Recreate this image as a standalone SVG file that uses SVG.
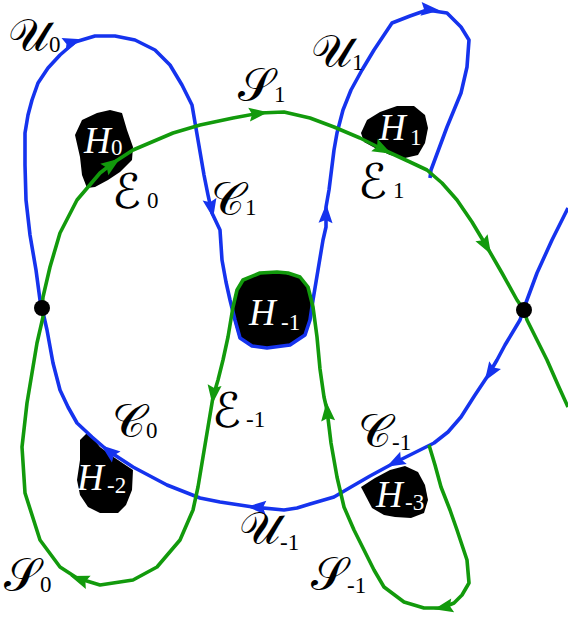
<svg xmlns="http://www.w3.org/2000/svg" xmlns:xlink="http://www.w3.org/1999/xlink" width="568" height="619" viewBox="0 0 568 619">
<style>
.blob{fill:#000}
.bl{fill:none;stroke:#1533ee;stroke-width:3.6;stroke-linejoin:round;stroke-linecap:butt}
.gr{fill:none;stroke:#129a0c;stroke-width:3.6;stroke-linejoin:round;stroke-linecap:butt}
.ab{fill:#1533ee}
.ag{fill:#129a0c}
.lab{font-family:"Liberation Serif","DejaVu Serif",serif;font-style:italic;font-size:37px;fill:#000}
.scr{font-family:"DejaVu Serif","DejaVu Sans","Liberation Serif",serif;font-style:normal;font-size:46px;fill:#000}
.scE{font-family:"DejaVu Serif","DejaVu Sans","Liberation Serif",serif;font-style:normal;font-size:48px;fill:#000}
.sub{font-family:"Liberation Serif",serif;font-style:normal;font-size:23px}
.w{fill:#fff}
</style>
<defs>
<path id="ah" d="M6,0 L-13,-7 L-10,0 L-13,7 Z"/>
</defs>
<g id="holes">
<g id="H0"><polygon class="blob" points="82,120 97,113 110,110 122,113 127,130 133,147 132,160 120,172 108,180 95,187 87,188 82,175 80,157 75,135"/><text class="lab w" x="84" y="153">H<tspan class="sub" x="111" y="155">0</tspan></text></g>
<g id="H1"><polygon class="blob" points="361,133 367,120 380,112 397,106 414,106 425,115 428,128 425,143 418,155 405,158 390,155 375,148 364,142"/><text class="lab w" x="379" y="140">H<tspan class="sub" x="410" y="145">1</tspan></text></g>
<g id="Hm1"><polygon class="blob" points="243,280 260,273 277,272 300,277 308,287 313,307 310,322 305,335 290,345 267,349 248,345 238,335 233,318 234,298"/><text class="lab w" x="249" y="325">H<tspan class="sub" x="281" y="330">-1</tspan></text></g>
<g id="Hm2"><polygon class="blob" points="80,440 88,432 100,447 115,458 133,470 132,490 126,505 118,513 100,513 88,507 80,495 77,480 80,460"/><text class="lab w" x="77" y="490">H<tspan class="sub" x="107" y="493">-2</tspan></text></g>
<g id="Hm3"><polygon class="blob" points="361,487 375,478 390,470 405,466 418,472 425,485 428,500 424,513 411,518 395,517 384,515 372,508"/><text class="lab w" x="376" y="507">H<tspan class="sub" x="405" y="510">-3</tspan></text></g>
</g>
<g id="connectors">
<path id="blue" class="bl" d="M568,208 L552,240 L537,273 L524,308 L520,320 L505,345 L497,360 L487,377 L475,395 L461,417 L448,432 L434,443 L410,455 L394,463 L370,476 L351,487 L334,497 L310,504 L297,508 L284,510 L253,507 L220,502 L200,498 L167,485 L133,467 L107,450 L92,437 L77,423 L68,407 L60,390 L53,363 L47,330 L42,308 L40,300 L36,270 L30,235 L26,200 L25,165 L25,133 L28,115 L32,100 L38,83 L48,68 L60,55 L75,42 L95,36 L115,36 L135,40 L155,50 L170,65 L182,85 L192,105 L198,140 L204,175 L208,195 L212,213 L220,230 L222,260 L226,282 L230,300 L235,320 L240,338 L252,346 L267,348 L290,345 L305,335 L310,320 L313,300 L318,270 L323,240 L326,227 L326,207 L329,190 L334,150 L337,133 L343,110 L351,90 L362,70 L374,50 L392,23 L410,16 L427,10 L447,13 L461,27 L469,40 L467,67 L461,93 L447,127 L431,170 L430,178"/>
<path id="green" class="gr" d="M429,445 L435,465 L441,487 L450,510 L457,530 L463,548 L467,560 L469,583 L462,595 L454,603 L442,608 L424,608 L404,602 L384,587 L374,570 L364,550 L354,530 L344,507 L337,477 L331,443 L327,410 L324,397 L320,369 L317,337 L313,307 L308,287 L300,277 L288,273 L277,272 L260,273 L243,280 L237,290 L233,307 L228,337 L223,360 L218,380 L213,397 L208,427 L198,487 L193,510 L180,540 L157,567 L133,580 L100,585 L77,578 L60,567 L40,540 L25,493 L22,447 L27,403 L37,343 L43,317 L42,308 L43,297 L50,267 L60,233 L77,200 L100,173 L113,163 L133,150 L173,133 L200,125 L233,118 L260,113 L284,112 L310,118 L334,127 L360,138 L384,150 L410,162 L427,170 L442,183 L457,200 L472,222 L487,247 L502,273 L517,300 L524,310 L527,320 L537,340 L547,360 L558,385 L568,407"/>
<use xlink:href="#ah" class="ab" transform="translate(76,41) rotate(-17)"/>
<use xlink:href="#ah" class="ab" transform="translate(212,212) rotate(79)"/>
<use xlink:href="#ah" class="ab" transform="translate(326,210) rotate(-88)"/>
<use xlink:href="#ah" class="ab" transform="translate(434,10) rotate(5)"/>
<use xlink:href="#ah" class="ab" transform="translate(488,376) rotate(123)"/>
<use xlink:href="#ah" class="ab" transform="translate(392,464) rotate(152)"/>
<use xlink:href="#ah" class="ab" transform="translate(253,507) rotate(-177)"/>
<use xlink:href="#ah" class="ab" transform="translate(106,449) rotate(-142)"/>
<use xlink:href="#ah" class="ag" transform="translate(115,162) rotate(-35)"/>
<use xlink:href="#ah" class="ag" transform="translate(262,113) rotate(-7)"/>
<use xlink:href="#ah" class="ag" transform="translate(386,151) rotate(27)"/>
<use xlink:href="#ah" class="ag" transform="translate(488,249) rotate(60)"/>
<use xlink:href="#ah" class="ag" transform="translate(213,398) rotate(97)"/>
<use xlink:href="#ah" class="ag" transform="translate(76,578) rotate(-160)"/>
<use xlink:href="#ah" class="ag" transform="translate(440,608) rotate(168)"/>
<use xlink:href="#ah" class="ag" transform="translate(327,408) rotate(-95)"/>
</g>
<g id="points">
<circle cx="42" cy="308" r="8" fill="#000"/>
<circle cx="524" cy="310" r="8" fill="#000"/>
</g>
<g id="labels">
<text class="scr" x="8" y="51">𝒰<tspan class="sub" y="52">0</tspan></text>
<text class="scr" x="238" y="101">𝒮<tspan class="sub" y="102">1</tspan></text>
<text class="scE" x="112" y="208">ℰ</text><text class="sub" x="147" y="208">0</text>
<text class="scr" x="211" y="215">𝒞<tspan class="sub" y="215">1</tspan></text>
<text class="scr" x="311" y="67">𝒰<tspan class="sub" y="70">1</tspan></text>
<text class="scE" x="358" y="198">ℰ</text><text class="sub" x="393" y="198">1</text>
<text class="scE" x="212" y="427">ℰ</text><text class="sub" x="246" y="427">-1</text>
<text class="scr" x="112" y="437">𝒞<tspan class="sub" y="438">0</tspan></text>
<text class="scr" x="239" y="544">𝒰<tspan class="sub" y="550">-1</tspan></text>
<text class="scr" x="4" y="591">𝒮<tspan class="sub" y="592">0</tspan></text>
<text class="scr" x="358" y="447">𝒞<tspan class="sub" y="450">-1</tspan></text>
<text class="scr" x="311" y="590">𝒮<tspan class="sub" y="593">-1</tspan></text>
</g>
</svg>
